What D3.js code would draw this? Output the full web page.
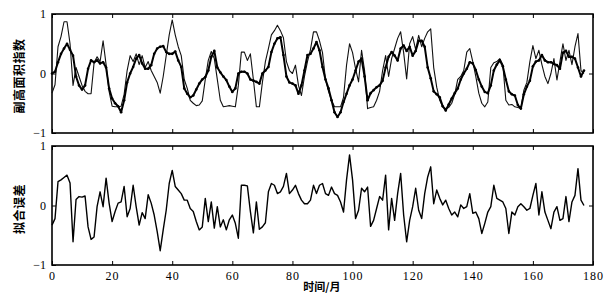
<!DOCTYPE html>
<html><head><meta charset="utf-8">
<script src="https://cdn.jsdelivr.net/npm/d3@7"></script>
<style>body{margin:0;background:#fff}svg{display:block}</style>
</head><body>
<svg id="c" width="608" height="302"></svg>
<script>
// observed (thin line), months 0..177
const observed = [-0.33,-0.19,0.45,0.62,0.87,0.87,0.50,-0.20,0.10,-0.05,
-0.20,-0.30,-0.34,-0.34,0.18,0.28,0.20,0.55,0.15,-0.30,
-0.55,-0.56,-0.56,-0.55,-0.35,0.05,0.30,0.20,0.33,0.15,
0.30,0.10,0.20,0.05,-0.05,-0.15,-0.33,-0.05,0.30,0.65,
0.90,0.65,0.45,0.30,-0.10,-0.25,-0.45,-0.50,-0.54,-0.53,
-0.46,-0.10,0.22,0.37,0.25,-0.10,-0.45,-0.56,-0.55,-0.54,
-0.55,-0.56,-0.20,0.36,0.36,0.22,0.33,-0.10,-0.56,-0.56,
-0.15,0.20,0.42,0.65,0.72,0.81,0.72,0.60,0.20,0.05,
0.00,0.14,-0.20,-0.37,-0.05,0.20,0.40,0.70,0.70,0.55,
0.35,-0.10,-0.30,-0.45,-0.56,-0.56,-0.56,-0.40,0.14,0.50,
0.35,0.08,-0.14,0.39,0.05,-0.59,-0.57,-0.56,-0.45,-0.30,
0.05,0.30,-0.05,0.25,0.42,0.59,0.70,0.35,-0.09,0.50,
0.62,0.40,0.64,0.45,0.59,0.70,0.75,0.10,-0.23,-0.45,
-0.56,-0.59,-0.57,-0.50,-0.35,-0.10,-0.05,0.05,0.36,0.42,
0.20,-0.05,-0.33,-0.50,-0.56,-0.48,0.10,0.18,0.20,0.25,
0.15,-0.45,-0.53,-0.52,-0.56,-0.57,-0.59,-0.28,-0.15,0.20,
0.47,0.25,0.39,0.15,-0.05,-0.17,0.00,0.25,-0.11,0.20,
0.50,0.22,0.39,0.15,0.45,0.67,0.05,0.00];
// fitted (thick line)
const fitted = [0.00,0.03,0.19,0.33,0.42,0.50,0.40,0.30,-0.05,-0.20,
-0.27,-0.20,0.08,0.22,0.19,0.22,0.17,0.19,0.10,-0.25,
-0.42,-0.50,-0.55,-0.65,-0.45,-0.15,0.00,0.11,0.25,0.31,
0.17,0.08,0.08,0.14,0.33,0.42,0.45,0.46,0.36,0.33,
0.33,0.37,0.22,0.11,-0.25,-0.34,-0.40,-0.37,-0.27,-0.17,
-0.10,-0.06,0.05,0.28,0.38,0.10,0.02,-0.05,-0.11,-0.22,
-0.31,-0.25,0.00,0.03,0.03,0.00,-0.10,-0.12,-0.14,-0.17,
0.00,0.05,0.11,0.36,0.50,0.59,0.61,0.31,-0.05,-0.15,
-0.17,-0.20,-0.34,-0.20,0.05,0.31,0.33,0.42,0.53,0.39,
0.11,-0.10,-0.25,-0.45,-0.65,-0.73,-0.65,-0.48,-0.34,-0.20,
-0.10,0.05,0.20,0.25,-0.05,-0.45,-0.33,-0.28,-0.23,-0.20,
-0.12,0.10,0.28,0.36,0.30,0.22,0.42,0.47,0.38,0.45,
0.30,0.38,0.55,0.55,0.45,0.10,-0.08,-0.30,-0.35,-0.40,
-0.55,-0.62,-0.52,-0.42,-0.33,-0.25,-0.10,0.00,0.08,0.19,
0.17,0.06,-0.10,-0.22,-0.31,-0.33,-0.20,0.05,0.15,0.22,
0.12,-0.10,-0.30,-0.35,-0.37,-0.53,-0.59,-0.35,-0.22,-0.12,
0.12,0.20,0.22,0.31,0.22,0.19,0.19,0.16,0.14,0.08,
0.35,0.38,0.28,0.28,0.25,0.10,-0.05,0.05];
// fitting error (bottom panel)
const fitError = [-0.33,-0.22,0.40,0.43,0.47,0.51,0.38,-0.61,0.10,0.15,
0.14,0.16,-0.36,-0.57,-0.53,-0.02,0.23,-0.02,0.46,0.04,
-0.27,-0.10,0.04,0.06,0.32,-0.19,-0.05,0.34,-0.02,-0.33,
-0.12,-0.22,0.18,0.04,-0.16,-0.44,-0.76,-0.41,-0.08,0.37,
0.59,0.32,0.26,0.20,0.09,0.09,-0.05,-0.10,-0.27,-0.41,
-0.36,0.12,-0.27,0.06,-0.38,-0.02,-0.36,-0.24,-0.41,-0.24,
-0.16,-0.30,-0.55,0.34,0.34,0.33,-0.10,-0.46,0.06,-0.40,
-0.36,-0.29,0.23,0.37,0.34,0.20,0.23,0.32,0.54,0.20,
0.26,0.34,0.20,0.09,0.03,0.03,0.09,0.34,0.20,0.34,
0.37,0.20,0.17,0.31,0.20,0.17,0.06,-0.11,0.43,0.85,
0.43,-0.22,-0.08,0.29,0.23,0.31,-0.35,-0.25,-0.05,0.15,
0.09,0.51,-0.41,0.12,-0.25,0.20,0.54,-0.16,-0.61,-0.25,
-0.02,0.29,-0.08,-0.22,0.20,0.48,0.65,0.03,0.26,0.12,
0.01,0.09,-0.05,-0.16,-0.11,-0.19,0.01,-0.05,-0.02,0.20,
-0.13,-0.11,-0.22,-0.47,-0.30,-0.11,-0.02,0.34,0.12,0.09,
0.06,-0.05,-0.47,-0.11,-0.16,-0.02,0.03,-0.02,-0.08,-0.05,
0.17,0.37,-0.16,0.23,-0.11,-0.25,-0.39,-0.11,-0.02,-0.25,
-0.22,0.15,-0.27,0.06,0.17,0.62,0.09,0.00];
const xTicks = [0,20,40,60,80,100,120,140,160,180];
const yTicks = [-1,0,1];
const yTickLabels = ["\u22121","0","1"];
const yTitleTop = "副高面积指数";
const yTitleBottom = "拟合误差";
const xTitle = "时间/月";

const svg = d3.select("#c");
const x = d3.scaleLinear().domain([0,180]).range([52,593]);
const yT = d3.scaleLinear().domain([-1,1]).range([133,14]);
const yB = d3.scaleLinear().domain([-1,1]).range([265,146]);
const fontNum = "'Liberation Serif','DejaVu Serif',serif";
const fontCJK = "'Noto Sans CJK SC',sans-serif";

function panel(y, showX){
  const g = svg.append("g");
  const ab = g.append("g").attr("transform",`translate(0,${y.range()[0]})`)
    .call(d3.axisBottom(x).tickValues(xTicks).tickSize(-4).tickPadding(6)
      .tickFormat(showX? d3.format("d") : ()=>""));
  const at = g.append("g").attr("transform",`translate(0,${y.range()[1]})`)
    .call(d3.axisTop(x).tickValues(xTicks).tickSize(-4).tickFormat(()=>""));
  const al = g.append("g").attr("transform",`translate(${x.range()[0]},0)`)
    .call(d3.axisLeft(y).tickValues(yTicks).tickSize(-4).tickPadding(6)
      .tickFormat((d,i)=>yTickLabels[i]));
  const ar = g.append("g").attr("transform",`translate(${x.range()[1]},0)`)
    .call(d3.axisRight(y).tickValues([0]).tickSize(-4).tickFormat(()=>""));
  [ab,at,al,ar].forEach(a=>{
    a.select(".domain").remove();
    a.selectAll(".tick line").attr("stroke","#000").attr("stroke-width",1);
    a.selectAll("text").attr("font-family",fontNum).attr("font-size",12).attr("fill","#000");
  });
  ab.selectAll("text").attr("letter-spacing","1px");
  g.append("rect").attr("x",x.range()[0]).attr("y",y.range()[1])
    .attr("width",x.range()[1]-x.range()[0]).attr("height",y.range()[0]-y.range()[1])
    .attr("fill","none").attr("stroke","#000").attr("stroke-width",1.6);
  return g;
}
panel(yT,false);
panel(yB,true);

const lineT = d3.line().x((d,i)=>x(i)).y(d=>yT(d));
const lineB = d3.line().x((d,i)=>x(i)).y(d=>yB(d));
svg.append("path").datum(observed).attr("d",lineT).attr("fill","none")
  .attr("stroke","#111").attr("stroke-width",1.1).attr("stroke-linejoin","round");
svg.append("path").datum(fitted).attr("d",lineT).attr("fill","none")
  .attr("stroke","#000").attr("stroke-width",2).attr("stroke-linejoin","round");
svg.append("g").selectAll("circle").data(fitted).join("circle")
  .attr("cx",(d,i)=>x(i)).attr("cy",d=>yT(d)).attr("r",1.3).attr("fill","#000");
svg.append("path").datum(fitError).attr("d",lineB).attr("fill","none")
  .attr("stroke","#000").attr("stroke-width",1.4).attr("stroke-linejoin","round");

svg.append("text").attr("transform","translate(24,76) rotate(-90)")
  .attr("text-anchor","middle").attr("font-family",fontCJK).attr("font-weight","bold")
  .attr("font-size",12).attr("letter-spacing","0.5px").text(yTitleTop);
svg.append("text").attr("transform","translate(24,209) rotate(-90)")
  .attr("text-anchor","middle").attr("font-family",fontCJK).attr("font-weight","bold")
  .attr("font-size",12).attr("letter-spacing","0.5px").text(yTitleBottom);
svg.append("text").attr("x",322).attr("y",291).attr("text-anchor","middle")
  .attr("font-family",fontCJK).attr("font-weight","bold").attr("font-size",11)
  .text(xTitle);
</script>
</body></html>
